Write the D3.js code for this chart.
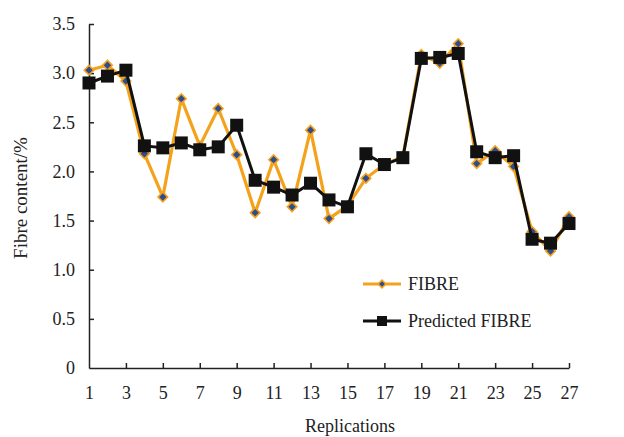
<!DOCTYPE html>
<html>
<head>
<meta charset="utf-8">
<script src="https://cdn.jsdelivr.net/npm/d3@7"></script>
<style>
  html, body { margin: 0; padding: 0; background: #fff; }
  svg text { font-family: "Liberation Serif", "Times New Roman", serif; fill: #222; }
</style>
</head>
<body>
<svg id="chart" width="624" height="437"></svg>
<script>
// Replication numbers 1..27
const replications = [1,2,3,4,5,6,7,8,9,10,11,12,13,14,15,16,17,18,19,20,21,22,23,24,25,26,27];
// Measured fibre content (%)
const fibre = [3.03,3.08,2.92,2.18,1.74,2.74,2.26,2.64,2.17,1.58,2.12,1.64,2.42,1.52,1.65,1.93,2.07,2.15,3.19,3.10,3.30,2.08,2.21,2.05,1.39,1.19,1.54];
// Predicted fibre content (%)
const predicted = [2.90,2.97,3.03,2.26,2.24,2.29,2.22,2.25,2.47,1.91,1.84,1.76,1.88,1.71,1.64,2.18,2.07,2.14,3.15,3.16,3.20,2.20,2.14,2.16,1.31,1.27,1.47];
const xTicks = [1,3,5,7,9,11,13,15,17,19,21,23,25,27];
const yTicks = [0,0.5,1.0,1.5,2.0,2.5,3.0,3.5];
const yTickLabels = ["0","0.5","1.0","1.5","2.0","2.5","3.0","3.5"];

const svg = d3.select("#chart");
const x = d3.scaleLinear().domain([1, 27]).range([89, 569]);
const y = d3.scaleLinear().domain([0, 3.5]).range([368, 24]);

const orange = "#f4a21c";
const blue = "#2f4c8f";
const fontSize = 18;

// Axes: ticks point inward
const xAxis = d3.axisBottom(x).tickValues(xTicks).tickSizeInner(-5).tickSizeOuter(0).tickPadding(18).tickFormat(d3.format("d"));
const yAxis = d3.axisLeft(y).tickValues(yTicks).tickSizeInner(-5).tickSizeOuter(0).tickPadding(14).tickFormat((d, i) => yTickLabels[i]);

const gx = svg.append("g").attr("transform", `translate(0,${y(0)})`).call(xAxis);
const gy = svg.append("g").attr("transform", `translate(${x(1)},0)`).call(yAxis);
[gx, gy].forEach(g => {
  g.selectAll(".domain").attr("stroke", "#222").attr("stroke-width", 1.5);
  g.selectAll(".tick line").attr("stroke", "#222").attr("stroke-width", 1.5);
  g.selectAll(".tick text").attr("font-size", fontSize).attr("fill", "#222")
    .style("font-family", '"Liberation Serif", serif');
});
gx.select(".tick line").attr("display", "none");
gy.selectAll(".tick").filter(d => d === 0).select("line").attr("display", "none");

// Axis titles
svg.append("text").attr("x", 350).attr("y", 432).attr("text-anchor", "middle")
  .attr("font-size", fontSize).text("Replications");
svg.append("text").attr("transform", "translate(27,198) rotate(-90)").attr("text-anchor", "middle")
  .attr("font-size", 19).text("Fibre content/%");

const line = d3.line().x((d, i) => x(replications[i])).y(d => y(d));

// Measured series: orange line with blue diamonds (squares turned 45°)
svg.append("path").datum(fibre).attr("d", line)
  .attr("fill", "none").attr("stroke", orange).attr("stroke-width", 3.2).attr("stroke-linejoin", "round");
const diamond = d3.symbol().type(d3.symbolSquare).size(46);
svg.append("g").selectAll("path").data(fibre).join("path")
  .attr("d", diamond)
  .attr("transform", (d, i) => `translate(${x(replications[i])},${y(d)}) rotate(45)`)
  .attr("fill", blue).attr("stroke", orange).attr("stroke-width", 1.6);

// Predicted series: black line with black squares
svg.append("path").datum(predicted).attr("d", line)
  .attr("fill", "none").attr("stroke", "#111").attr("stroke-width", 3).attr("stroke-linejoin", "round");
svg.append("g").selectAll("rect").data(predicted).join("rect")
  .attr("x", (d, i) => x(replications[i]) - 6.5).attr("y", d => y(d) - 6.5)
  .attr("width", 13).attr("height", 13).attr("fill", "#111");

// Legend
const legend = svg.append("g");
legend.append("line").attr("x1", 363).attr("x2", 401).attr("y1", 284).attr("y2", 284)
  .attr("stroke", orange).attr("stroke-width", 3.2);
legend.append("path").attr("d", d3.symbol().type(d3.symbolSquare).size(30)).attr("transform", "translate(382,284) rotate(45)")
  .attr("fill", blue).attr("stroke", orange).attr("stroke-width", 1.5);
legend.append("text").attr("x", 408).attr("y", 290).attr("font-size", fontSize).text("FIBRE");
legend.append("line").attr("x1", 363).attr("x2", 401).attr("y1", 321).attr("y2", 321)
  .attr("stroke", "#111").attr("stroke-width", 3);
legend.append("rect").attr("x", 377).attr("y", 316).attr("width", 10).attr("height", 10).attr("fill", "#111");
legend.append("text").attr("x", 408).attr("y", 327).attr("font-size", fontSize).text("Predicted FIBRE");
</script>
</body>
</html>
